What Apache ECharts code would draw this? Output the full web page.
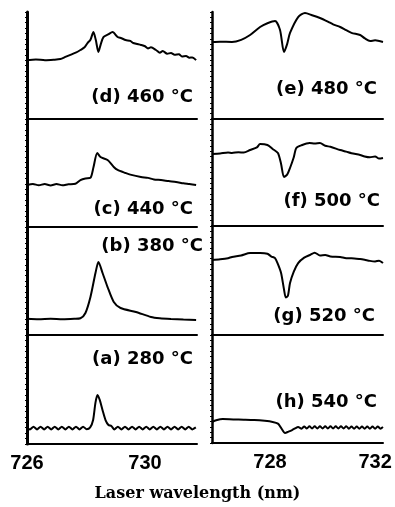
<!DOCTYPE html>
<html><head><meta charset="utf-8">
<script src="https://cdn.jsdelivr.net/npm/echarts@6/dist/echarts.min.js"></script>
<style>html,body{margin:0;padding:0;background:#fff}#c{width:395px;height:507px}</style>
</head><body><div id="c"></div>
<script>
// Tick labels
const xTicksLeft = [726, 730];
const xTicksRight = [728, 732];
const xTitle = 'Laser wavelength (nm)';
// Panel labels
const labelD = '(d) 460 °C', labelC = '(c) 440 °C', labelB = '(b) 380 °C', labelA = '(a) 280 °C';
const labelE = '(e) 480 °C', labelF = '(f) 500 °C', labelG = '(g) 520 °C', labelH = '(h) 540 °C';

// Signals [wavelength nm, signal a.u. (0-100 per panel)]
const d460 = [[726.0,55],[726.3,55.6],[726.61,55],[726.9,55.4],[727.13,56],[727.3,58],[727.47,60],[727.65,62],[727.81,64.5],[727.95,67],[728.05,71],[728.15,74],[728.25,81.3],[728.33,74],[728.42,62.6],[728.5,70],[728.59,76.6],[728.75,79],[728.9,81.3],[729.07,76.6],[729.2,75.5],[729.34,73.8],[729.5,73],[729.6,71],[729.86,69.2],[730.0,68],[730.1,66],[730.2,67],[730.37,64.5],[730.5,62],[730.6,63.5],[730.75,61],[730.88,61.7],[731.0,60],[731.15,60.5],[731.25,58.5],[731.39,58.9],[731.5,57.3],[731.6,57.5],[731.73,55]];
const c440 = [[726.0,38.9],[726.2,39.8],[726.4,38.6],[726.6,39.8],[726.8,38.5],[727.0,39.8],[727.2,38.6],[727.4,39.5],[727.64,40],[727.81,43.5],[727.98,45],[728.15,45.5],[728.25,55],[728.38,68.5],[728.49,64.8],[728.73,62],[728.94,55.6],[729.07,52.8],[729.34,50],[729.5,48.5],[729.86,46.3],[730.1,45.5],[730.3,44],[730.54,43.5],[730.8,42.5],[731.05,41.7],[731.3,40.5],[731.5,39.8],[731.73,38.9]];
const b380 = [[726.0,15],[726.4,14.6],[726.8,15],[727.2,14.6],[727.6,15],[727.81,15.5],[727.98,20.4],[728.15,35.2],[728.32,57.4],[728.42,67.6],[728.56,57.4],[728.73,44.4],[728.94,30.6],[729.17,25],[729.69,21.3],[730.2,16.7],[730.5,15.5],[730.88,14.8],[731.3,14.3],[731.73,13.9]];
const a280 = [[726.0,15],[726.1,13.4],[726.22,15.9],[726.34,13.4],[726.46,15.9],[726.58,13.4],[726.7,15.9],[726.82,13.4],[726.94,15.9],[727.06,13.4],[727.18,15.9],[727.3,13.4],[727.42,15.9],[727.54,13.4],[727.66,15.9],[727.78,13.4],[727.9,15.9],[728.02,13.6],[728.14,15.2],[728.24,22],[728.32,38],[728.39,45],[728.47,40],[728.56,31],[728.66,22],[728.76,17.5],[728.86,16.5],[728.96,13.4],[729.08,15.9],[729.2,13.4],[729.32,15.9],[729.44,13.4],[729.56,15.9],[729.68,13.4],[729.8,15.9],[729.92,13.4],[730.04,15.9],[730.16,13.4],[730.28,15.9],[730.4,13.4],[730.52,15.9],[730.64,13.4],[730.76,15.9],[730.88,13.4],[731.0,15.9],[731.12,13.4],[731.24,15.9],[731.36,13.4],[731.48,15.9],[731.6,13.4],[731.72,15.2]];
const e480 = [[725.79,72],[726.1,72.3],[726.55,72],[726.9,74],[727.24,78.5],[727.62,86],[727.9,89.5],[728.19,91.6],[728.38,83.2],[728.53,62.6],[728.65,70],[728.76,80.4],[729.07,95.3],[729.33,99],[729.6,97],[729.9,94.4],[730.2,91],[730.4,88.5],[730.67,86],[730.9,83],[731.1,80.5],[731.43,78.5],[731.6,75.5],[731.81,72.9],[732.0,73.5],[732.3,72]];
const f500 = [[725.79,67.3],[726.1,67.8],[726.4,68.6],[726.55,68.2],[726.8,69],[727.0,68.6],[727.24,71],[727.5,73.5],[727.62,76.6],[727.9,75.7],[728.1,72],[728.3,68.2],[728.42,58],[728.53,45.8],[728.65,48],[728.76,54.2],[728.9,64],[729.0,72.9],[729.2,75.5],[729.5,77.6],[729.7,77],[729.9,77.6],[730.1,75],[730.3,74],[730.67,71],[730.9,69.5],[731.1,68],[731.43,66.4],[731.6,65],[731.8,64.2],[732.0,65],[732.15,63],[732.3,63.6]];
const g520 = [[725.79,68.8],[726.1,69.5],[726.4,70.5],[726.55,71.6],[726.9,73],[727.24,75.2],[727.62,75.2],[727.9,74.5],[728.05,72],[728.19,70.6],[728.3,65],[728.42,56.9],[728.53,42],[728.6,34.5],[728.68,36],[728.76,47.7],[728.9,58],[729.07,66],[729.3,71],[729.52,73.4],[729.7,75.5],[729.9,73],[730.1,73.4],[730.3,72],[730.67,71.6],[730.9,70.5],[731.1,70.5],[731.43,69.7],[731.6,69],[731.8,68],[732.0,67.5],[732.15,68.2],[732.3,66]];
const h540 = [[725.79,19.4],[725.95,21],[726.2,22.2],[726.6,21.8],[727.0,21.6],[727.4,21.3],[727.8,20.5],[728.1,19.5],[728.3,18],[728.42,14],[728.57,9.3],[728.7,10.5],[728.84,12],[728.95,13.5],[729.07,14.8],[729.2,13.3],[729.3,15.3],[729.4,13.5],[729.5,15.5],[729.6,13.5],[729.7,15.5],[729.8,13.5],[729.9,15.5],[730.0,13.5],[730.1,15.5],[730.2,13.5],[730.3,15.5],[730.4,13.5],[730.5,15.5],[730.6,13.5],[730.7,15.5],[730.8,13.5],[730.9,15.5],[731.0,13.3],[731.1,15.3],[731.2,13.3],[731.3,15.3],[731.4,13.3],[731.5,15.3],[731.6,13.3],[731.7,15.3],[731.8,13.3],[731.9,15.3],[732.0,13.3],[732.1,15.3],[732.2,13.3],[732.3,14.8]];

const panels = [
  {data:d460, label:labelD, grid:{left:27, top:12, width:170, height:107}, col:0, bottom:false, lx:193, ly:98},
  {data:c440, label:labelC, grid:{left:27, top:119, width:170, height:108}, col:0, bottom:false, lx:193, ly:210},
  {data:b380, label:labelB, grid:{left:27, top:227, width:170, height:108}, col:0, bottom:false, lx:203, ly:247},
  {data:a280, label:labelA, grid:{left:27, top:335, width:170, height:109}, col:0, bottom:true, lx:193, ly:360},
  {data:e480, label:labelE, grid:{left:212, top:12, width:171, height:107}, col:1, bottom:false, lx:377, ly:90},
  {data:f500, label:labelF, grid:{left:212, top:119, width:171, height:107}, col:1, bottom:false, lx:380, ly:202},
  {data:g520, label:labelG, grid:{left:212, top:226, width:171, height:109}, col:1, bottom:false, lx:375, ly:317},
  {data:h540, label:labelH, grid:{left:212, top:335, width:171, height:108}, col:1, bottom:true, lx:377, ly:403}
];

const grid = [], xAxis = [], yAxis = [], series = [], graphic = [];
panels.forEach((p, i) => {
  grid.push(p.grid);
  xAxis.push({
    type:'value', gridIndex:i,
    min: p.col === 0 ? 726 : 725.79,
    max: p.col === 0 ? 731.76 : 732.3,
    axisLine:{show:true, onZero:false, lineStyle:{color:'#000', width:2}},
    axisTick:{show:false},
    splitLine:{show:false},
    axisLabel:{show:p.bottom, customValues: p.col === 0 ? xTicksLeft : xTicksRight,
      color:'#000', fontSize:20, fontWeight:'bold', fontFamily:'Liberation Sans', margin:9,
      showMinLabel:true, showMaxLabel:true}
  });
  yAxis.push({
    type:'value', gridIndex:i, min:0, max:100, interval:5,
    axisLine:{show:true, lineStyle:{color:'#000', width: p.col === 0 ? 3 : 2.5}},
    axisTick:{show:true, length:2, lineStyle:{color:'#000', width:1.2}},
    axisLabel:{show:false}, splitLine:{show:false}
  });
  series.push({
    type:'line', xAxisIndex:i, yAxisIndex:i, data:p.data, showSymbol:false, symbol:'none',
    smooth:0.25, lineStyle:{color:'#000', width:2}, silent:true, animation:false
  });
  graphic.push({
    type:'text', right: 395 - p.lx, top: p.ly - 10,
    style:{text:p.label, fill:'#000', font:'bold 18px "DejaVu Sans"', textVerticalAlign:'top'}
  });
});
graphic.push({
  type:'text', left:'center', top:486,
  style:{text:xTitle, fill:'#000', font:'bold 16px "DejaVu Serif"'}
});

const chart = echarts.init(document.getElementById('c'), null, {renderer:'canvas'});
chart.setOption({animation:false, backgroundColor:'#fff', grid, xAxis, yAxis, series, graphic});
</script>
</body></html>
